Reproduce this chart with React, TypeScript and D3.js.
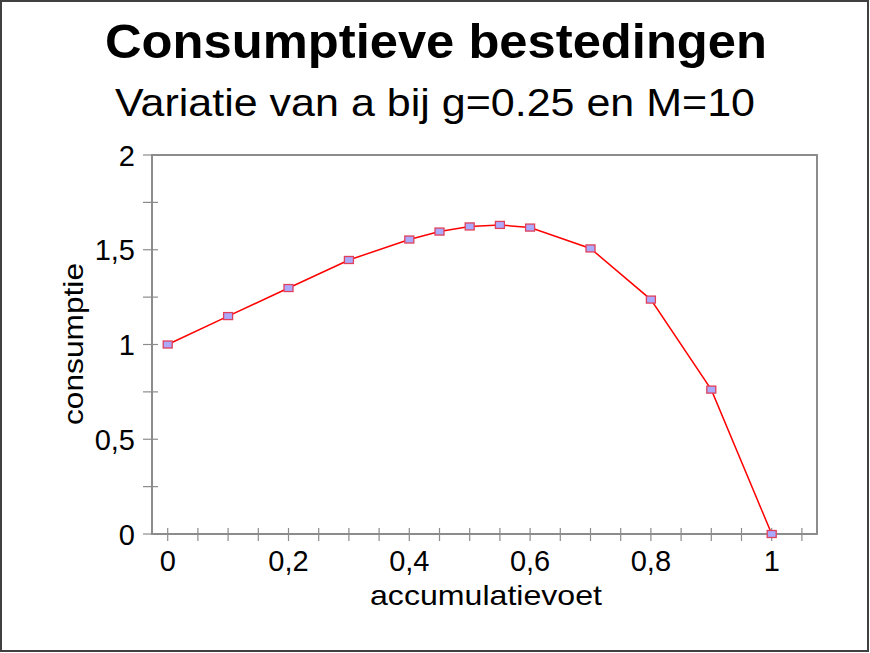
import React from 'react';
import * as d3 from 'd3';

// accumulatievoet (a) en bijbehorende consumptie
const aValues = [0, 0.1, 0.2, 0.3, 0.4, 0.45, 0.5, 0.55, 0.6, 0.7, 0.8, 0.9, 1];
const consumptie = [1.0, 1.15, 1.298, 1.446, 1.554, 1.596, 1.623, 1.631, 1.617, 1.507, 1.237, 0.762, 0];

const xTickLabels = [0, 0.2, 0.4, 0.6, 0.8, 1];
const yTickLabels = [0, 0.5, 1, 1.5, 2];

const title = 'Consumptieve bestedingen';
const subtitle = 'Variatie van a bij g=0.25 en M=10';
const xLabel = 'accumulatievoet';
const yLabel = 'consumptie';

const fmt = (v: number) => String(v).replace('.', ',');

export default function App() {
  const W = 870;
  const H = 653;
  const left = 152;
  const right = 817;
  const top = 155;
  const bottom = 534;

  const x = d3.scaleLinear().domain([-0.026, 1.075]).range([left, right]);
  const y = d3.scaleLinear().domain([0, 2]).range([bottom, top]);

  const xTicks = d3.range(0, 1.051, 0.05);
  const yTicks = d3.range(0, 2.001, 0.25);

  const pts = aValues.map((a, i) => ({ a, c: consumptie[i] }));
  const line = d3.line<{ a: number; c: number }>()
    .x(d => x(d.a))
    .y(d => y(d.c));

  const axisColor = '#8c8c8c';
  const font = 'Arial, "Liberation Sans", sans-serif';

  return (
    <svg width={W} height={H} style={{ position: 'absolute', left: 0, top: 0 }} fontFamily={font}>
      <rect x={0} y={0} width={W} height={H} fill="#ffffff" />
      <rect x={1} y={1} width={W - 3} height={H - 3} fill="none" stroke="#404040" strokeWidth={2} />

      <text x={436} y={58} textAnchor="middle" fontSize={49} fontWeight="bold" fill="#000"
        textLength={662} lengthAdjust="spacingAndGlyphs">{title}</text>
      <text x={435} y={116} textAnchor="middle" fontSize={39} fill="#000"
        textLength={640} lengthAdjust="spacingAndGlyphs">{subtitle}</text>

      {/* plot frame */}
      <rect x={left} y={top} width={right - left} height={bottom - top} fill="none" stroke={axisColor} strokeWidth={2} />

      {/* y ticks */}
      {yTicks.map(t => (
        <line key={'yt' + t} x1={left - 9} x2={left + 6} y1={y(t)} y2={y(t)} stroke={axisColor} strokeWidth={1.2} />
      ))}
      {yTickLabels.map(t => (
        <text key={'yl' + t} x={135} y={y(t) + 10.5} textAnchor="end" fontSize={29} fill="#000">{fmt(t)}</text>
      ))}

      {/* x ticks */}
      {xTicks.map(t => (
        <line key={'xt' + t} x1={x(t)} x2={x(t)} y1={bottom - 6} y2={bottom + 7} stroke={axisColor} strokeWidth={1.2} />
      ))}
      {xTickLabels.map(t => (
        <text key={'xl' + t} x={x(t)} y={571} textAnchor="middle" fontSize={29} fill="#000">{fmt(t)}</text>
      ))}

      <text x={486} y={605} textAnchor="middle" fontSize={28} fill="#000"
        textLength={232} lengthAdjust="spacingAndGlyphs">{xLabel}</text>
      <text transform={`translate(83,344) rotate(-90)`} textAnchor="middle" fontSize={28} fill="#000"
        textLength={162} lengthAdjust="spacingAndGlyphs">{yLabel}</text>

      <path d={line(pts) || ''} fill="none" stroke="#ff0000" strokeWidth={1.5} />
      {pts.map(p => (
        <rect key={'m' + p.a} x={x(p.a) - 4.5} y={y(p.c) - 3.5} width={9} height={7}
          fill="#aaaaff" stroke="#e0405a" strokeWidth={1.3} />
      ))}
    </svg>
  );
}
